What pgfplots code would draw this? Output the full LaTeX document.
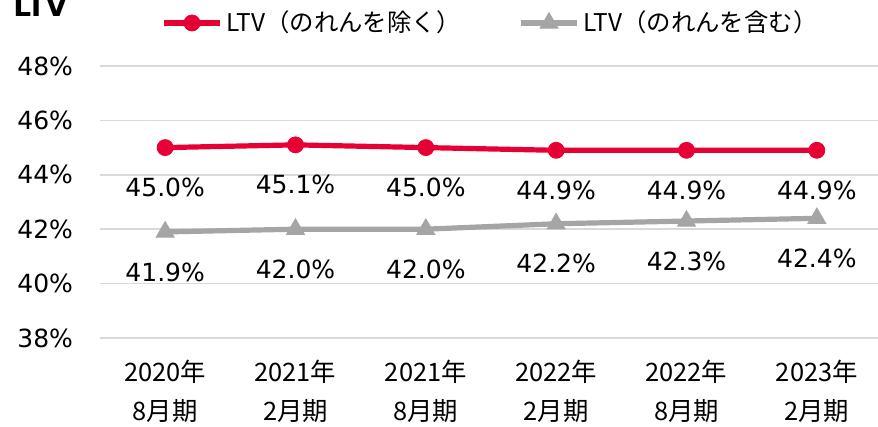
\documentclass[border=0pt]{standalone}
\usepackage{pgfplots}
\pgfplotsset{compat=1.18}
\usepackage{fontspec}
\setmainfont{DejaVu Sans}
\newfontfamily\jp{Noto Sans CJK JP}
\definecolor{ltvred}{HTML}{E60033}
\definecolor{ltvgray}{HTML}{A5A5A5}
\definecolor{gridgray}{HTML}{D9D9D9}
\begin{document}
\begin{tikzpicture}
\path[use as bounding box] (0pt,0pt) rectangle (439pt,213.5pt);
\clip (0pt,0pt) rectangle (439pt,213.5pt);
\node[anchor=base west, font=\bfseries\fontsize{14}{14}\selectfont, inner sep=0pt] at (6.5pt,205pt) {LTV};
\begin{axis}[
  at={(50pt,44.5pt)}, anchor=south west,
  scale only axis, width=391pt, height=136pt,
  xmin=-0.5, xmax=5.5, ymin=38, ymax=48,
  ytick={38,40,...,48},
  xtick={0,...,5},
  xticklabels={{2020年\\8月期},{2021年\\2月期},{2021年\\8月期},{2022年\\2月期},{2022年\\8月期},{2023年\\2月期}},
  xticklabel style={align=center, font=\jp\fontsize{12.7}{19.5}\selectfont, yshift=-7.5pt},
  /pgf/number format/assume math mode=true,
  yticklabel={\pgfmathprintnumber{\tick}\%},
  yticklabel style={font=\fontsize{12.5}{12.5}\selectfont, xshift=-10pt},
  axis line style={draw=none},
  tick style={draw=none},
  ymajorgrids,
  grid style={gridgray, line width=0.75pt},
  clip=false,
  nodes near coords={\pgfmathprintnumber[fixed,fixed zerofill,precision=1,assume math mode=true]{\pgfplotspointmeta}\%},
  nodes near coords style={anchor=center, yshift=-20pt, font=\fontsize{12.5}{12.5}\selectfont, text=black},
  legend columns=2,
  legend style={at={(axis description cs:0,1)}, anchor=west, xshift=30.5pt, yshift=21.5pt, draw=none, fill=none, inner sep=0pt,
    font=\jp\fontsize{12.2}{12.2}\selectfont,
    /tikz/every even column/.append style={column sep=27pt}},
  legend image code/.code={\draw[#1, mark repeat=2, mark phase=2] plot coordinates {(0pt,0pt) (14pt,0pt) (28pt,0pt)};},
]
\addplot[ltvred, line width=2.6pt, mark=*, mark size=4pt, mark options={solid, line width=0.4pt}] coordinates {(0,45.0) (1,45.1) (2,45.0) (3,44.9) (4,44.9) (5,44.9)};
\addlegendentry{LTV（のれんを除く）}
\addplot[ltvgray, line width=2.6pt, mark=triangle*, mark size=5.2pt, mark options={solid, line width=0.4pt}] coordinates {(0,41.9) (1,42.0) (2,42.0) (3,42.2) (4,42.3) (5,42.4)};
\addlegendentry{LTV（のれんを含む）}
\end{axis}
\end{tikzpicture}
\end{document}
